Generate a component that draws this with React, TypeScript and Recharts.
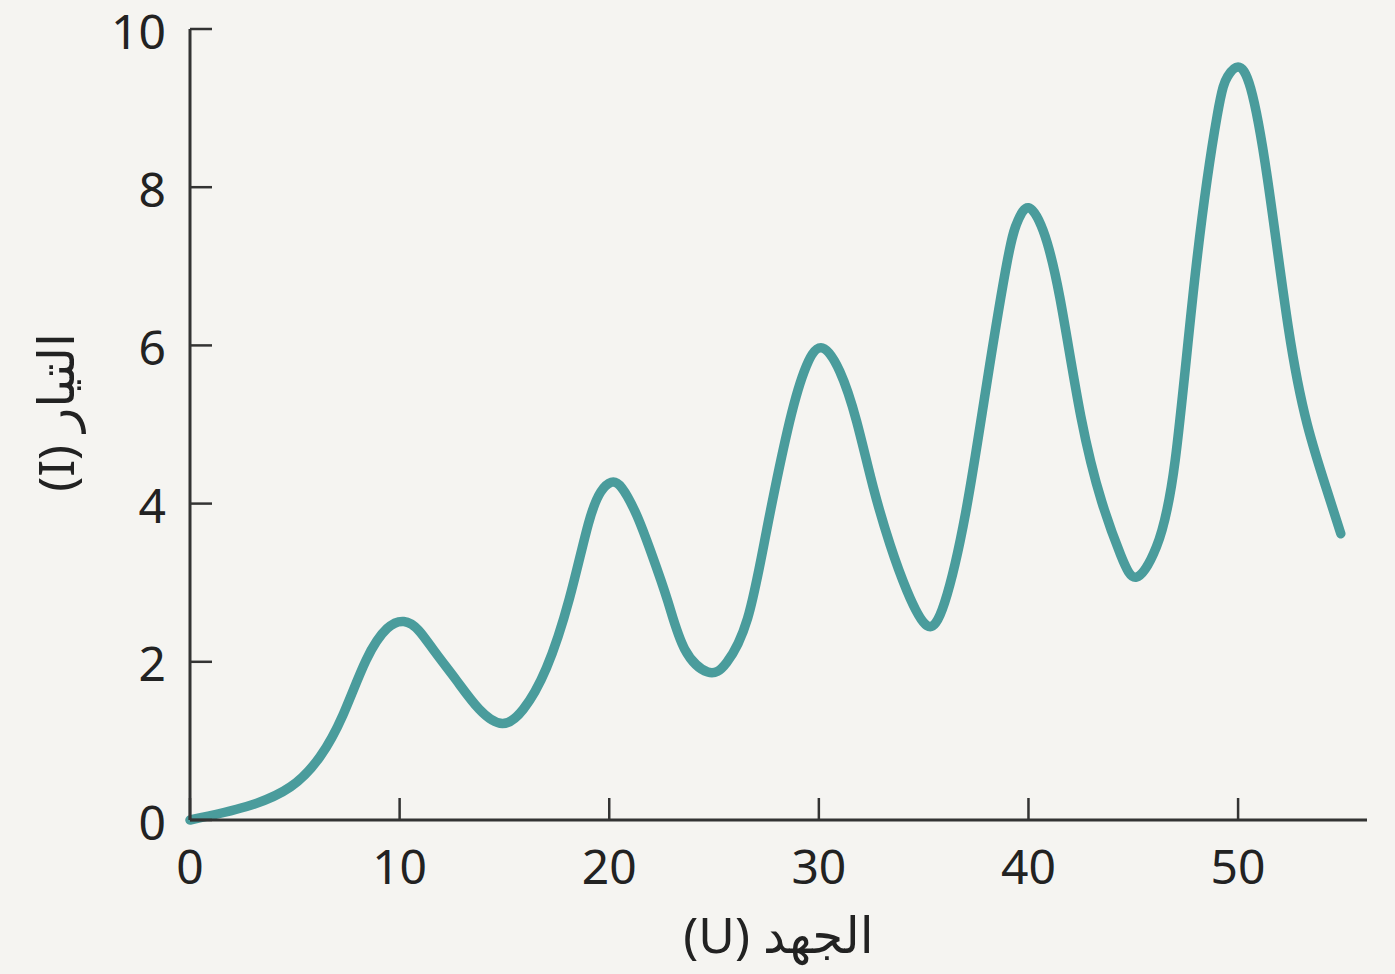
import React from 'react';
import { LineChart, Line, XAxis, YAxis, Label } from 'recharts';

// voltage U (x) and current I (y)
const voltage = [
  0, 2.7, 4.8, 6.2, 7.3, 8.4, 9.4, 10.2,
  10.9, 11.7, 12.7, 13.8, 14.9,
  15.9, 17.0, 18.1, 19.0, 19.6, 20.1,
  20.6, 21.3, 22.0, 22.8, 23.6, 24.7,
  25.6, 26.6, 27.5, 28.5, 29.3, 30.1,
  31.0, 31.8, 32.6, 33.4, 34.2, 35.15,
  36.0, 37.0, 38.0, 39.0, 39.5, 40.0,
  40.7, 41.5, 42.5, 43.5, 44.4, 45.15,
  46.1, 47.0, 48.0, 49.0, 49.5, 50.0,
  50.6, 51.4, 52.4, 53.3, 54.2, 54.9,
];

const current = [
  0, 0.17, 0.42, 0.8, 1.33, 2.02, 2.42, 2.51,
  2.4, 2.12, 1.77, 1.4, 1.22,
  1.4, 1.92, 2.8, 3.74, 4.15, 4.27,
  4.2, 3.86, 3.38, 2.76, 2.16, 1.87,
  1.99, 2.55, 3.65, 4.92, 5.67, 5.97,
  5.67, 5.04, 4.2, 3.48, 2.9, 2.46,
  2.75, 3.88, 5.5, 7.08, 7.58, 7.74,
  7.45, 6.6, 5.1, 4.02, 3.35, 3.07,
  3.45, 4.55, 7.0, 8.9, 9.4, 9.52,
  9.25, 8.11, 6.22, 5.0, 4.2, 3.62,
];

const xTicks = [0, 10, 20, 30, 40, 50];
const yTicks = [0, 2, 4, 6, 8, 10];

const xLabel = 'الجهد (U)';
const yLabel = 'التيار (I)';

const data = voltage.map((u, i) => ({ u, i: current[i] }));

const FONT = "'Noto Sans', 'DejaVu Sans', sans-serif";
const AXIS = '#333';
const TEXT = '#222';
const TICK_LEN = 22;
const Y_MARGIN = 24;

const YTick = (props: any) => {
  const { x, y, payload } = props;
  const axisX = x + Y_MARGIN;
  return (
    <g>
      <line x1={axisX} x2={axisX + TICK_LEN} y1={y} y2={y} stroke={AXIS} strokeWidth={2.5} />
      <text x={x} y={y + 1} textAnchor="end" dominantBaseline="central" fill={TEXT} fontSize={48} fontFamily={FONT}>
        {payload.value}
      </text>
    </g>
  );
};

const XTick = (props: any) => {
  const { x, y, payload } = props;
  return (
    <g>
      <line x1={x} x2={x} y1={y} y2={y - TICK_LEN} stroke={AXIS} strokeWidth={2.5} />
      <text x={x} y={y + 45} textAnchor="middle" dominantBaseline="central" fill={TEXT} fontSize={48} fontFamily={FONT}>
        {payload.value}
      </text>
    </g>
  );
};

export default function App() {
  return (
    <div style={{ position: 'absolute', left: 0, top: 0, width: 1395, height: 974, background: '#f5f4f1' }}>
      <LineChart width={1395} height={974} data={data} margin={{ top: 29, right: 28, bottom: 0, left: 0 }}>
        <XAxis
          dataKey="u"
          type="number"
          domain={[0, 56.15]}
          ticks={xTicks}
          height={154}
          tickSize={0}
          tickMargin={0}
          tickLine={false}
          axisLine={{ stroke: AXIS, strokeWidth: 3 }}
          tick={<XTick />}
        >
          <Label
            content={({ viewBox }: any) => (
              <text
                x={viewBox.x + viewBox.width / 2}
                y={viewBox.y + 114}
                textAnchor="middle"
                dominantBaseline="central"
                direction="rtl"
                fill={TEXT}
                fontSize={50}
                fontFamily={FONT}
              >
                {xLabel}
              </text>
            )}
          />
        </XAxis>
        <YAxis
          type="number"
          domain={[0, 10]}
          ticks={yTicks}
          width={190}
          tickSize={0}
          tickMargin={Y_MARGIN}
          tickLine={false}
          axisLine={{ stroke: AXIS, strokeWidth: 3 }}
          tick={<YTick />}
        >
          <Label
            content={({ viewBox }: any) => {
              const cx = viewBox.x + 55;
              const cy = viewBox.y + viewBox.height / 2 - 12;
              return (
                <text
                  x={cx}
                  y={cy}
                  transform={`rotate(-90 ${cx} ${cy})`}
                  textAnchor="middle"
                  dominantBaseline="central"
                  direction="rtl"
                  fill={TEXT}
                  fontSize={50}
                  fontFamily={FONT}
                >
                  {yLabel}
                </text>
              );
            }}
          />
        </YAxis>
        <Line
          type="natural"
          dataKey="i"
          stroke="#4a9c9c"
          strokeWidth={9.5}
          strokeLinecap="round"
          dot={false}
          isAnimationActive={false}
        />
      </LineChart>
    </div>
  );
}
